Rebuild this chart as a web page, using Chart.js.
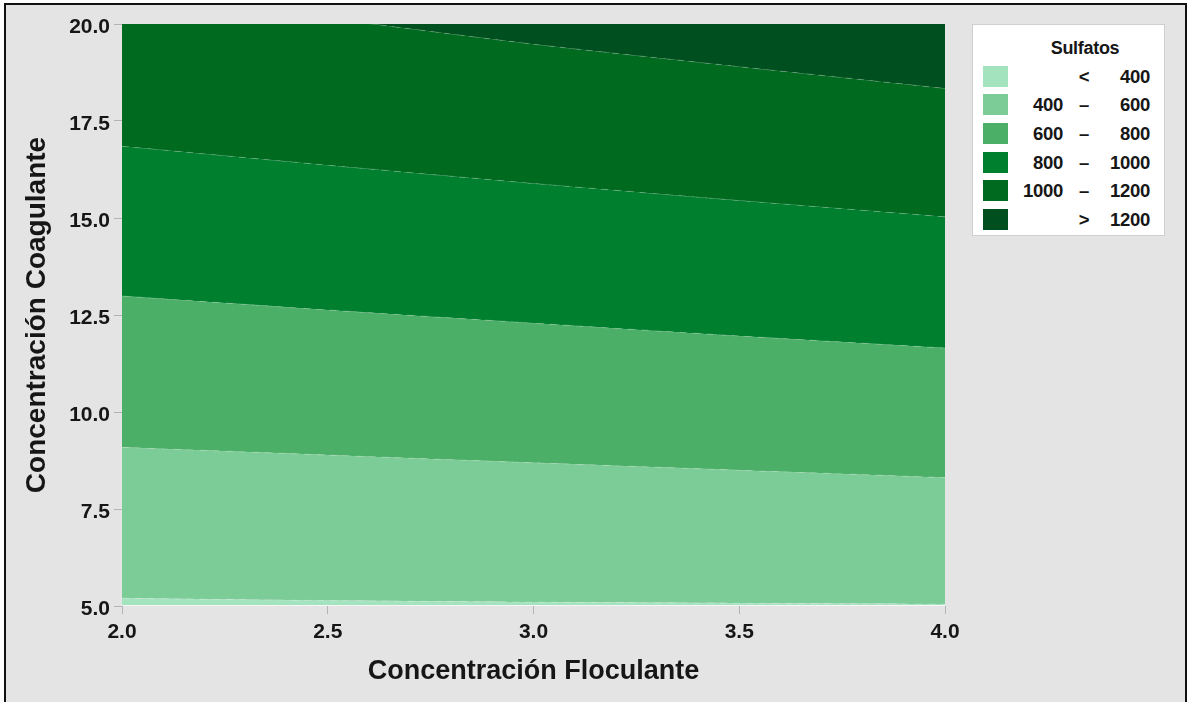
<!DOCTYPE html>
<html>
<head>
<meta charset="utf-8">
<script src="https://cdn.jsdelivr.net/npm/chart.js@4.4.1/dist/chart.umd.min.js"></script>
<style>
  html, body { margin: 0; padding: 0; background: #ffffff; }
  body { width: 1188px; height: 702px; position: relative; overflow: hidden;
         font-family: "Liberation Sans", Arial, Helvetica, sans-serif; }
  #frame { position: absolute; left: 4px; top: 3px; width: 1179px; height: 720px;
           border: 2px solid #111; background: #e4e4e4; }
  #c { position: absolute; left: 0; top: 0; }
  #legend { position: absolute; left: 972px; top: 24px; width: 193px; height: 212px;
            background: #ffffff; border: 1px solid #cfcfcf; box-sizing: border-box; }
  .lg { position: absolute; font-weight: bold; font-size: 18.5px; color: #161616; line-height: 20px; white-space: nowrap; letter-spacing: -0.3px; }
  .sw { position: absolute; width: 25px; height: 21px; }
</style>
</head>
<body>
<div id="frame"></div>
<canvas id="c" width="1188" height="702"></canvas>
<div id="legend"></div>
<script>
// ---- data ----
const xValues   = [2.0, 2.5, 3.0, 3.5, 4.0];
const yMinLine  = [5.0, 5.0, 5.0, 5.0, 5.0];
const level400  = [5.20, 5.14, 5.10, 5.07, 5.05];
const level600  = [9.09, 8.89, 8.69, 8.50, 8.31];
const level800  = [12.99, 12.63, 12.29, 11.96, 11.65];
const level1000 = [16.85, 16.36, 15.89, 15.45, 15.03];
const level1200 = [20.90, 20.15, 19.48, 18.90, 18.34];
const yMaxLine  = [20.0, 20.0, 20.0, 20.0, 20.0];
const xTicks = [2.0, 2.5, 3.0, 3.5, 4.0];
const yTicks = [5.0, 7.5, 10.0, 12.5, 15.0, 17.5, 20.0];
const legendTitle = "Sulfatos";
const legendLow  = ["", "400", "600", "800", "1000", ""];
const legendSign = ["<", "–", "–", "–", "–", ">"];
const legendHigh = ["400", "600", "800", "1000", "1200", "1200"];

// ---- styles ----
const bandColors = ["#a3e4bf", "#7bcc97", "#4caf67", "#007f2f", "#006a1e", "#004f1f"];
const FONT = '"Liberation Sans", Arial, Helvetica, sans-serif';

const toPts = arr => xValues.map((x, i) => ({x: x, y: arr[i]}));
const lines = [yMinLine, level400, level600, level800, level1000, level1200, yMaxLine];

const datasets = lines.map((arr, i) => ({
  data: toPts(arr),
  fill: i === 0 ? false : '-1',
  backgroundColor: i === 0 ? 'transparent' : bandColors[i - 1],
  borderColor: i === 0 ? '#f6f6f6' : (i === lines.length - 1 ? 'transparent' : 'rgba(255,255,255,0.22)'),
  borderWidth: i === 0 ? 2 : 1,
  borderDash: i === 0 ? [] : [7, 6],
  pointRadius: 0,
  tension: 0.2
}));

new Chart(document.getElementById('c'), {
  type: 'line',
  data: { datasets: datasets },
  options: {
    responsive: false,
    animation: false,
    devicePixelRatio: 1,
    layout: { padding: { top: 24, right: 243, left: 0, bottom: 0 } },
    plugins: { legend: { display: false }, tooltip: { enabled: false } },
    scales: {
      x: {
        type: 'linear', min: 2, max: 4,
        afterBuildTicks: s => { s.ticks = xTicks.map(v => ({value: v})); },
        afterFit: s => { s.height = 96; },
        border: { display: false },
        grid: { drawOnChartArea: false, drawTicks: true, tickLength: 8, color: '#b4b4b4' },
        ticks: { padding: 6, color: '#161616', font: { family: FONT, size: 21, weight: 'bold' },
                 callback: v => Number(v).toFixed(1), maxRotation: 0 },
        title: { display: true, text: 'Concentración Floculante', color: '#161616',
                 font: { family: FONT, size: 27, weight: 'bold', lineHeight: 1.2 },
                 padding: { top: 0, bottom: 14 } }
      },
      y: {
        type: 'linear', min: 5, max: 20,
        afterBuildTicks: s => { s.ticks = yTicks.map(v => ({value: v})); },
        afterFit: s => { s.width = 122; },
        border: { display: false },
        grid: { drawOnChartArea: false, drawTicks: true, tickLength: 8, color: '#b4b4b4' },
        ticks: { padding: 4, labelOffset: 3, color: '#161616', font: { family: FONT, size: 21, weight: 'bold' },
                 callback: v => Number(v).toFixed(1) },
        title: { display: true, text: 'Concentración Coagulante', color: '#161616',
                 font: { family: FONT, size: 28, weight: 'bold', lineHeight: 1.2 },
                 padding: { top: 20, bottom: 0 } }
      }
    }
  }
});

// ---- legend (HTML) ----
const lg = document.getElementById('legend');
const L0 = 972, T0 = 24;
function addText(txt, x, y, align) {
  const d = document.createElement('div');
  d.className = 'lg';
  d.textContent = txt;
  lg.appendChild(d);
  const w = d.getBoundingClientRect().width;
  let left = x;
  if (align === 'right') left = x - w;
  if (align === 'center') left = x - w / 2;
  d.style.left = (left - L0 - 1) + 'px';
  d.style.top = (y - 10 - T0 - 1) + 'px';
  return d;
}
const t = addText(legendTitle, 1085, 48, 'center');
t.style.fontSize = '18px';
t.style.left = (1085 - t.getBoundingClientRect().width / 2 - L0 - 1) + 'px';
const rowY = [77, 105, 134, 163, 191, 220];
for (let i = 0; i < legendHigh.length; i++) {
  const sw = document.createElement('div');
  sw.className = 'sw';
  sw.style.background = bandColors[i];
  sw.style.left = (983 - L0 - 1) + 'px';
  sw.style.top = (rowY[i] - 11 - T0 - 1) + 'px';
  lg.appendChild(sw);
  if (legendLow[i]) addText(legendLow[i], 1063, rowY[i], 'right');
  addText(legendSign[i], 1084, rowY[i], 'center');
  addText(legendHigh[i], 1150, rowY[i], 'right');
}
</script>
</body>
</html>
